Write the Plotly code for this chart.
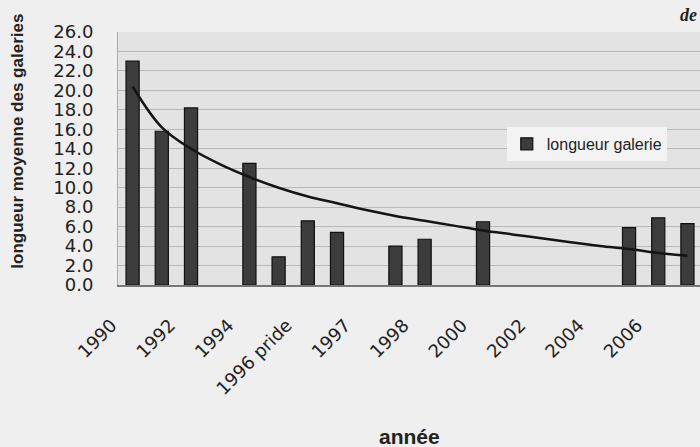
import plotly.graph_objects as go

# slot index of each bar on the category axis (20 slots, labels every other slot)
bar_slots = [0, 1, 2, 4, 5, 6, 7, 9, 10, 12, 17, 18, 19]
bar_values = [23.0, 15.8, 18.2, 12.5, 2.9, 6.6, 5.4, 4.0, 4.7, 6.5, 5.9, 6.9, 6.3]

trend_slots = list(range(20))
trend_values = [20.4, 16.2, 14.0, 12.4, 11.1, 10.0, 9.1, 8.4, 7.7, 7.1,
                6.6, 6.1, 5.6, 5.2, 4.8, 4.4, 4.0, 3.7, 3.3, 3.0]

tick_slots = [0, 2, 4, 6, 8, 10, 12, 14, 16, 18]
tick_labels = ["1990", "1992", "1994", "1996 pride", "1997", "1998",
               "2000", "2002", "2004", "2006"]

y_ticks = [0, 2, 4, 6, 8, 10, 12, 14, 16, 18, 20, 22, 24, 26]

fig = go.Figure()
fig.add_trace(go.Bar(
    x=bar_slots, y=bar_values, name="longueur galerie", width=0.45,
    marker=dict(color="#3c3c3c", line=dict(color="#111111", width=1.2)),
))
fig.add_trace(go.Scatter(
    x=trend_slots, y=trend_values, mode="lines", showlegend=False,
    line=dict(color="#151515", width=2.5, shape="spline"),
))

fig.update_layout(
    width=700, height=447,
    margin=dict(l=118, r=0, t=32, b=162),
    paper_bgcolor="#efefef",
    plot_bgcolor="#e3e3e3",
    showlegend=True,
    legend=dict(x=0.668, y=0.625, xanchor="left", yanchor="top",
                bgcolor="#f3f3f3", borderwidth=0,
                font=dict(family="Liberation Sans, Arial, sans-serif", size=16, color="#222")),
    xaxis=dict(
        range=[-0.5, 19.43], tickvals=tick_slots, ticktext=tick_labels,
        tickangle=-45, showgrid=False, zeroline=False, automargin=False,
        showline=True, linecolor="#777", linewidth=1.5, mirror=False,
        tickfont=dict(family="DejaVu Sans, sans-serif", size=18, color="#222"),
        ticklabelstandoff=21, ticklabelshift=-21,
    ),
    yaxis=dict(
        range=[0, 26], tickvals=y_ticks, tickformat=".1f",
        showgrid=True, gridcolor="#b8b8b8", gridwidth=1, zeroline=False,
        showline=True, linecolor="#aaaaaa", linewidth=1, mirror=True,
        automargin=False, ticklabelstandoff=20,
        tickfont=dict(family="DejaVu Sans, sans-serif", size=18, color="#222"),
    ),
    annotations=[
        dict(text="<b>longueur moyenne des galeries</b>", textangle=-90,
             xref="paper", yref="paper", x=-0.172, y=0.57, xanchor="center", yanchor="middle",
             showarrow=False, font=dict(family="Liberation Sans, Arial, sans-serif", size=17, color="#222")),
        dict(text="<b><i>de</i></b>", xref="paper", yref="paper", x=0.998, y=1.067,
             xanchor="right", yanchor="middle", showarrow=False,
             font=dict(family="Liberation Serif, serif", size=18, color="#222")),
        dict(text="<b>année</b>", xref="paper", yref="paper", x=0.5, y=-0.60,
             xanchor="center", yanchor="middle", showarrow=False,
             font=dict(family="Liberation Sans, Arial, sans-serif", size=21, color="#222")),
    ],
)

fig.write_html(
    "out.html",
    config={"displayModeBar": False},
    post_script="document.body.style.margin='0';document.body.style.background='#efefef';",
)
